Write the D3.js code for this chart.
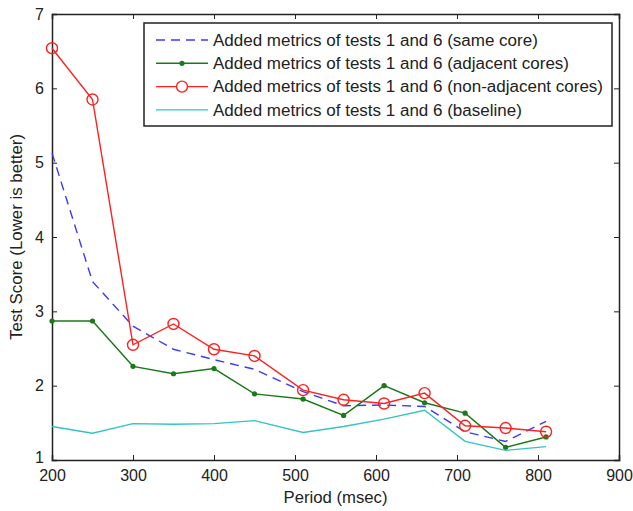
<!DOCTYPE html>
<html><head><meta charset="utf-8">
<script src="https://cdn.jsdelivr.net/npm/d3@7"></script>
<style>body{margin:0;background:#fff}svg{display:block}text{font-family:"Liberation Sans",Arial,sans-serif}</style>
</head><body>
<svg id="c" width="633" height="511"></svg>
<script>
const periods = [200,250,300,350,400,450,510,560,610,660,710,760,810];
const sameCore = [5.13,3.40,2.80,2.49,2.35,2.22,1.92,1.73,1.74,1.72,1.38,1.25,1.52];
const adjacentCores = [2.87,2.87,2.26,2.16,2.23,1.89,1.82,1.60,2.00,1.77,1.63,1.17,1.31];
const nonAdjacentCores = [6.54,5.85,2.55,2.83,2.49,2.40,1.94,1.81,1.76,1.90,1.46,1.43,1.38];
const baseline = [1.45,1.36,1.49,1.48,1.49,1.53,1.37,1.45,1.55,1.67,1.25,1.13,1.18];
const xTicks = [200,300,400,500,600,700,800,900];
const yTicks = [1,2,3,4,5,6,7];
const seriesNames = [
 "Added metrics of tests 1 and 6 (same core)",
 "Added metrics of tests 1 and 6 (adjacent cores)",
 "Added metrics of tests 1 and 6 (non-adjacent cores)",
 "Added metrics of tests 1 and 6 (baseline)"
];
const xLabel = "Period (msec)";
const yLabel = "Test Score (Lower is better)";

const series = [
 {name:seriesNames[0], values:sameCore, color:"#3a3aff", dash:"9,6", marker:null},
 {name:seriesNames[1], values:adjacentCores, color:"#1a7a1a", dash:null, marker:"dot"},
 {name:seriesNames[2], values:nonAdjacentCores, color:"#ff2020", dash:null, marker:"circle"},
 {name:seriesNames[3], values:baseline, color:"#33c4c4", dash:null, marker:null}
];

const L=52, R=619, T=14, B=460;
const svg = d3.select("#c");
const x = d3.scaleLinear().domain([200,900]).range([L,R]);
const y = d3.scaleLinear().domain([1,7]).range([B,T]);

const fs = 16;
const gx = svg.append("g").attr("transform",`translate(0,${B})`)
  .call(d3.axisBottom(x).tickValues(xTicks).tickSize(-5).tickPadding(10).tickFormat(d3.format("d")));
const gxt = svg.append("g").attr("transform",`translate(0,${T})`)
  .call(d3.axisTop(x).tickValues(xTicks).tickSize(-5).tickFormat(""));
const gy = svg.append("g").attr("transform",`translate(${L},0)`)
  .call(d3.axisLeft(y).tickValues(yTicks).tickSize(-5).tickPadding(8).tickFormat(d3.format("d")));
const gyr = svg.append("g").attr("transform",`translate(${R},0)`)
  .call(d3.axisRight(y).tickValues(yTicks).tickSize(-5).tickFormat(""));
[gx,gxt,gy,gyr].forEach(g=>{
  g.select(".domain").attr("stroke","#222").attr("stroke-width",1.5);
  g.selectAll(".tick line").attr("stroke","#222");
  g.selectAll("text").attr("font-size",fs).attr("fill","#222").attr("font-family",null);
});
gy.selectAll(".tick text").filter(d=>d===1).attr("dy","0.15em");

const line = d3.line().x((d,i)=>x(periods[i])).y(d=>y(d));
const plot = svg.append("g");
series.forEach(s=>{
  plot.append("path").datum(s.values).attr("d",line).attr("fill","none")
    .attr("stroke",s.color).attr("stroke-width",1.4)
    .attr("stroke-dasharray",s.dash);
  if(s.marker==="dot"){
    plot.selectAll(null).data(s.values).enter().append("circle")
      .attr("cx",(d,i)=>x(periods[i])).attr("cy",d=>y(d)).attr("r",2.6).attr("fill",s.color);
  } else if(s.marker==="circle"){
    plot.selectAll(null).data(s.values).enter().append("circle")
      .attr("cx",(d,i)=>x(periods[i])).attr("cy",d=>y(d)).attr("r",5.5)
      .attr("fill","none").attr("stroke",s.color).attr("stroke-width",1.4);
  }
});

svg.append("text").attr("x",(L+R)/2).attr("y",503).attr("text-anchor","middle")
  .attr("font-size",fs).attr("fill","#222").attr("textLength",104).attr("lengthAdjust","spacingAndGlyphs").text(xLabel);
svg.append("text").attr("transform",`translate(22,${(T+B)/2}) rotate(-90)`)
  .attr("text-anchor","middle").attr("font-size",fs).attr("fill","#222")
  .attr("textLength",206).attr("lengthAdjust","spacingAndGlyphs").text(yLabel);

const lg = svg.append("g");
lg.append("rect").attr("x",144).attr("y",23).attr("width",468).attr("height",103)
  .attr("fill","#fff").attr("stroke","#222").attr("stroke-width",1.5);
const texts = [];
series.forEach((s,i)=>{
  const yy = 40 + i*23.3;
  lg.append("line").attr("x1",156).attr("x2",208).attr("y1",yy).attr("y2",yy)
    .attr("stroke",s.color).attr("stroke-width",1.4).attr("stroke-dasharray",s.dash);
  if(s.marker==="dot") lg.append("circle").attr("cx",182).attr("cy",yy).attr("r",2.6).attr("fill",s.color);
  if(s.marker==="circle") lg.append("circle").attr("cx",182).attr("cy",yy).attr("r",5.5)
    .attr("fill","#fff").attr("stroke",s.color).attr("stroke-width",1.4);
  texts.push(lg.append("text").attr("x",213).attr("y",yy).attr("dy","0.36em").attr("font-size",fs)
    .attr("fill","#222").text(s.name));
});
const widths = texts.map(t=>t.node().getComputedTextLength());
const k = 390/widths[2];
texts.forEach((t,i)=>t.attr("textLength",widths[i]*k).attr("lengthAdjust","spacingAndGlyphs"));
</script>
</body></html>
